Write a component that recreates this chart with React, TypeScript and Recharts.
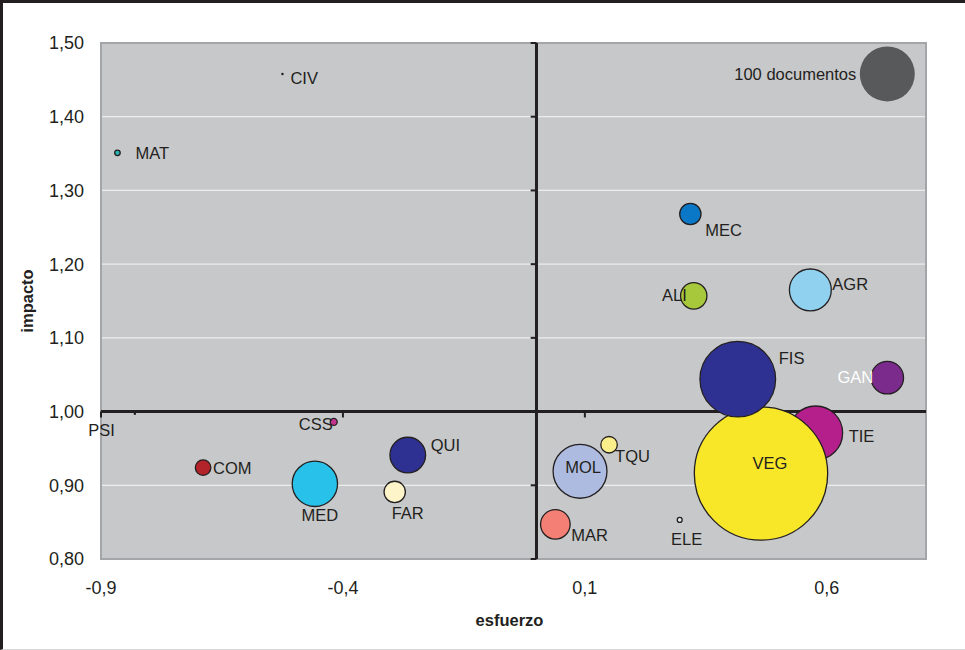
import React from 'react';
import {
  ScatterChart, Scatter, XAxis, YAxis, ZAxis, CartesianGrid, ReferenceLine, ReferenceArea,
} from 'recharts';

// ---- data ----
const names = ['CIV', 'MAT', 'PSI', 'CSS', 'COM', 'MED', 'QUI', 'FAR', 'MOL', 'TQU', 'MAR', 'ELE', 'MEC', 'ALI', 'AGR', 'TIE', 'VEG', 'FIS', 'GAN', '100 documentos'];
const esfuerzo = [-0.525, -0.866, -0.83, -0.419, -0.689, -0.458, -0.266, -0.293, 0.09, 0.15, 0.039, 0.296, 0.318, 0.325, 0.566, 0.577, 0.464, 0.416, 0.725, 0.725];
const impacto = [1.458, 1.351, 0.997, 0.986, 0.924, 0.902, 0.941, 0.891, 0.919, 0.955, 0.847, 0.853, 1.268, 1.157, 1.165, 0.971, 0.916, 1.044, 1.046, 1.458];
const documentos = [0.2, 1, 0.2, 1.6, 8, 68, 42, 15, 96, 9, 29, 0.8, 15, 23, 58, 96, 588, 189, 35, 100];

const xTicks = [-0.9, -0.4, 0.1, 0.6];
const yTicks = [0.8, 0.9, 1.0, 1.1, 1.2, 1.3, 1.4, 1.5];

// ---- styles ----
const colors = ['#231f20', '#2bb3b1', '#231f20', '#c2338d', '#b2232a', '#27c1e9', '#2e3192', '#fdf5c9', '#aebbe1', '#faef8a', '#f47f74', '#e8e8e8', '#0a78c6', '#a8c83b', '#8fd1ef', '#b51f8b', '#f8e628', '#2e3192', '#7a2b8c', '#58595b'];
const noOutline = ['CIV', 'PSI', '100 documentos'];
const labelPlacement: Record<string, { dx: number; dy: number; anchor: string; fill?: string }> = {
  CIV: { dx: 8, dy: 4, anchor: 'start' },
  MAT: { dx: 18, dy: 0, anchor: 'start' },
  PSI: { dx: -20, dy: 16, anchor: 'end' },
  CSS: { dx: -1, dy: 2, anchor: 'end' },
  COM: { dx: 10, dy: 0, anchor: 'start' },
  MED: { dx: 5, dy: 31, anchor: 'middle' },
  QUI: { dx: 23, dy: -10, anchor: 'start' },
  FAR: { dx: 13, dy: 21, anchor: 'middle' },
  MOL: { dx: 3, dy: -4, anchor: 'middle' },
  TQU: { dx: 6, dy: 11, anchor: 'start' },
  MAR: { dx: 16, dy: 11, anchor: 'start' },
  ELE: { dx: 7, dy: 19, anchor: 'middle' },
  MEC: { dx: 15, dy: 16, anchor: 'start' },
  ALI: { dx: -7, dy: -1, anchor: 'end' },
  AGR: { dx: 22, dy: -6, anchor: 'start' },
  TIE: { dx: 33, dy: 3, anchor: 'start' },
  VEG: { dx: 9, dy: -10, anchor: 'middle' },
  FIS: { dx: 41, dy: -21, anchor: 'start' },
  GAN: { dx: -14, dy: -1, anchor: 'end', fill: '#ffffff' },
  '100 documentos': { dx: -31, dy: 0, anchor: 'end' },
};

const points = names.map((n, i) => ({ name: n, x: esfuerzo[i], y: impacto[i], z: documentos[i], color: colors[i] }));

const FONT = '"Liberation Sans", Arial, Helvetica, sans-serif';
const TEXT = '#231f20';
const LABEL_SIZE = 16.5;

const fmt = (d: number) => (v: number) => v.toFixed(d).replace('.', ',');

const radiusOf = (p: any) => (p.size != null ? Math.sqrt(Math.max(p.size, 0) / Math.PI) : (p.width || 0) / 2);

const Bubble = (p: any) => {
  const r = radiusOf(p);
  const name = p.payload?.name;
  const outline = !noOutline.includes(name);
  return (
    <circle cx={p.cx} cy={p.cy} r={Math.max(r, 1.2)} fill={p.payload?.color}
      stroke={outline ? TEXT : 'none'} strokeWidth={outline ? 1.3 : 0} />
  );
};

const BubbleLabel = (p: any) => {
  const name = p.payload?.name;
  const pl = labelPlacement[name];
  if (!pl) return <g />;
  return (
    <text x={p.cx + pl.dx} y={p.cy + pl.dy + LABEL_SIZE * 0.358} textAnchor={pl.anchor}
      fontFamily={FONT} fontSize={LABEL_SIZE} fill={pl.fill || TEXT}>{name}</text>
  );
};

export default function App() {
  return (
    <div style={{ position: 'absolute', left: 0, top: 0, width: 965, height: 650, background: '#fff', fontFamily: FONT }}>
      <ScatterChart width={965} height={650} margin={{ top: 43, right: 39, bottom: 31, left: 0 }}>
        <CartesianGrid vertical={false} horizontal={true} fill="#c7c8ca" stroke="#ededed" strokeWidth={1.2} />
        <ReferenceArea x1={-0.9} x2={0.805} y1={0.8} y2={1.5} fill="none" stroke="#a3a5a8" strokeWidth={2} ifOverflow="visible" />
        <XAxis type="number" dataKey="x" domain={[-0.9, 0.805]} ticks={xTicks}
          tickFormatter={fmt(1)} axisLine={false} tickLine={false} tickSize={0} tickMargin={22} height={60}
          tick={{ fontSize: 18, fill: TEXT, fontFamily: FONT }}
          label={{ value: 'esfuerzo', position: 'bottom', offset: -5, dx: -4, style: { fontSize: 16.5, fontWeight: 'bold', fill: TEXT, fontFamily: FONT } }} />
        <YAxis type="number" dataKey="y" domain={[0.8, 1.5]} ticks={yTicks}
          tickFormatter={fmt(2)} axisLine={false} tickLine={false} tickSize={0} tickMargin={17} width={101}
          tick={{ fontSize: 18, fill: TEXT, fontFamily: FONT }}
          label={{
            content: (props: any) => {
              const vb = props.viewBox || { x: 0, y: 43, width: 101, height: 516 };
              const cx = vb.x + 27;
              const cy = vb.y + vb.height / 2;
              return (
                <text x={cx} y={cy} transform={`rotate(-90, ${cx}, ${cy})`} textAnchor="middle" dy="0.36em"
                  fontSize={16.5} fontWeight="bold" fill={TEXT} fontFamily={FONT}>impacto</text>
              );
            },
          }} />
        <ZAxis type="number" dataKey="z" domain={[0, 600]} range={[0, 14256]} />
        <ReferenceLine x={0} stroke={TEXT} strokeWidth={3} ifOverflow="visible" />
        <ReferenceLine y={1} stroke={TEXT} strokeWidth={3} ifOverflow="visible" />
        {yTicks.map((t) => (
          <ReferenceLine key={'yt' + t} segment={[{ x: -0.012, y: t }, { x: 0, y: t }]} stroke={TEXT} strokeWidth={2} ifOverflow="visible" />
        ))}
        {xTicks.map((t) => (
          <ReferenceLine key={'xt' + t} segment={[{ x: t, y: 1 }, { x: t, y: 0.992 }]} stroke={TEXT} strokeWidth={2} ifOverflow="visible" />
        ))}
        <Scatter data={points} shape={Bubble} isAnimationActive={false} />
        <Scatter data={points} shape={BubbleLabel} isAnimationActive={false} />
      </ScatterChart>
      <div style={{
        position: 'absolute', left: 0, top: 0, width: 965, height: 650, boxSizing: 'border-box',
        borderTop: '3px solid #231f20', borderLeft: '3px solid #231f20', borderBottom: '1px solid #d6d6d6',
        pointerEvents: 'none',
      }} />
    </div>
  );
}
